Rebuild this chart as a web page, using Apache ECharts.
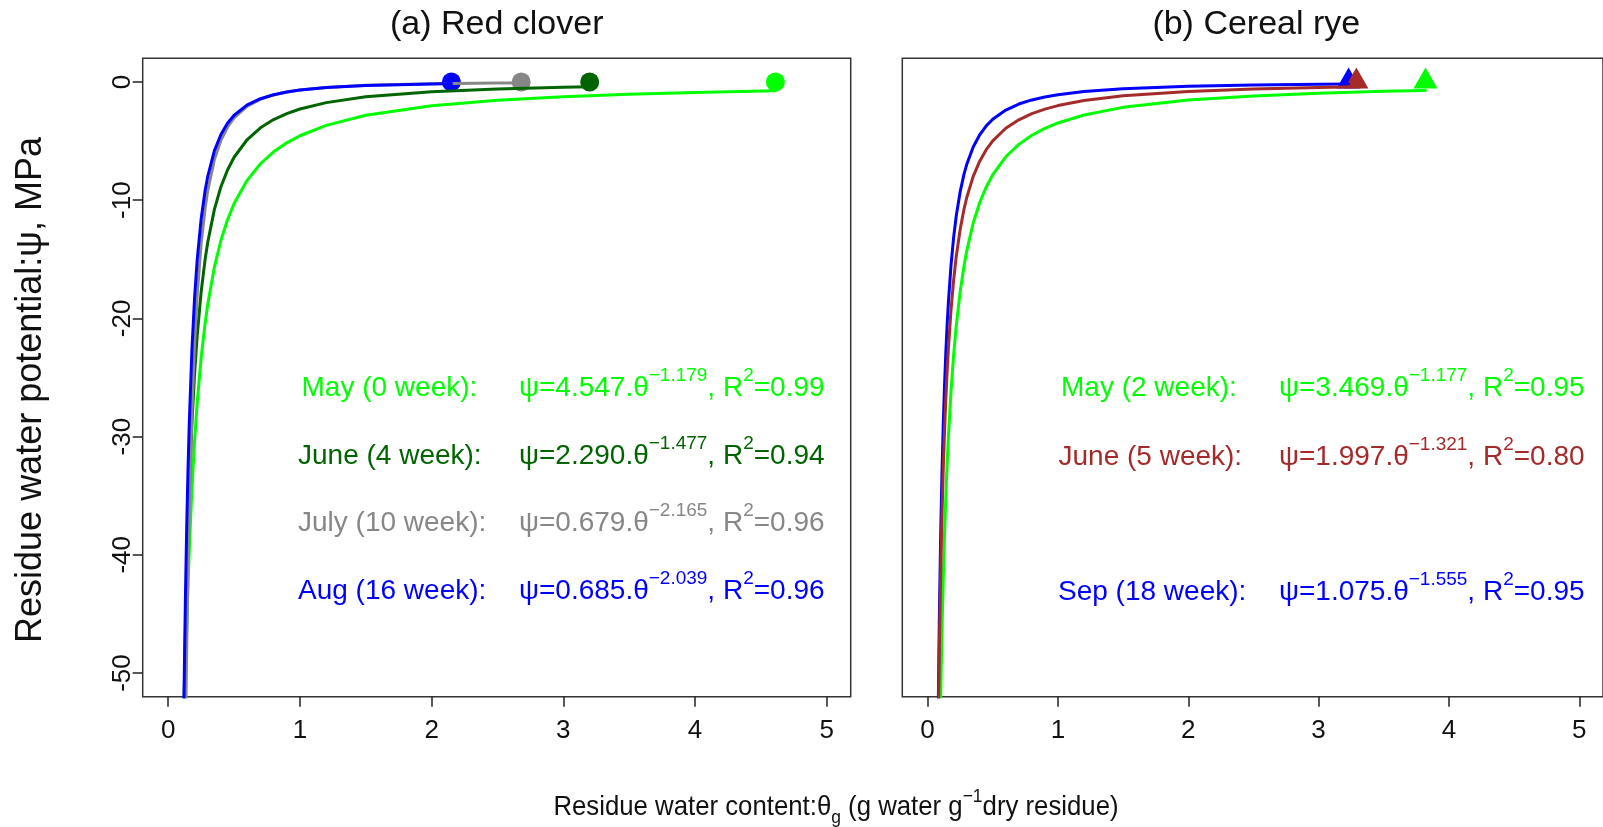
<!DOCTYPE html>
<html>
<head>
<meta charset="utf-8">
<script src="https://cdn.jsdelivr.net/npm/echarts@6/dist/echarts.min.js"></script>
<style>
html,body{margin:0;padding:0;background:#fff;}
#chart{width:1603px;height:827px;}
</style>
</head>
<body>
<div id="chart"></div>
<script>
// ---------------- DATA ----------------
// Panel (a) Red clover: fitted retention curves (theta, psi)
const rcMay_theta  = [0.11,0.12,0.13,0.14,0.15,0.16,0.18,0.2,0.22,0.25,0.28,0.3,0.35,0.4,0.45,0.5,0.6,0.7,0.8,0.9,1.0,1.2,1.5,2.0,2.5,3.0,3.5,4.0,4.61];
const rcMay_psi    = [-61.37,-55.38,-50.39,-46.18,-42.57,-39.45,-34.33,-30.33,-27.10,-23.31,-20.40,-18.80,-15.68,-13.39,-11.66,-10.29,-8.30,-6.92,-5.91,-5.15,-4.55,-3.67,-2.82,-2.01,-1.54,-1.25,-1.04,-0.89,-0.75];
const rcJune_theta = [0.11,0.12,0.13,0.14,0.15,0.16,0.18,0.2,0.22,0.25,0.28,0.3,0.35,0.4,0.45,0.5,0.6,0.7,0.8,0.9,1.0,1.2,1.5,2.0,2.5,3.0,3.2];
const rcJune_psi   = [-59.66,-52.47,-46.62,-41.78,-37.73,-34.31,-28.83,-24.67,-21.43,-17.74,-15.01,-13.56,-10.80,-8.86,-7.45,-6.37,-4.87,-3.88,-3.18,-2.68,-2.29,-1.75,-1.26,-0.82,-0.59,-0.45,-0.41];
const rcJuly_theta = [0.12,0.13,0.14,0.15,0.16,0.18,0.2,0.22,0.25,0.28,0.3,0.35,0.4,0.45,0.5,0.6,0.7,0.8,0.9,1.0,1.2,1.5,2.0,2.5,2.68];
const rcJuly_psi   = [-66.90,-56.25,-47.92,-41.27,-35.89,-27.81,-22.14,-18.01,-13.66,-10.69,-9.20,-6.59,-4.94,-3.83,-3.05,-2.05,-1.47,-1.10,-0.85,-0.68,-0.46,-0.28,-0.15,-0.09,-0.08];
const rcAug_theta  = [0.11,0.12,0.13,0.14,0.15,0.16,0.18,0.2,0.22,0.25,0.28,0.3,0.35,0.4,0.45,0.5,0.6,0.7,0.8,0.9,1.0,1.2,1.5,2.0,2.15];
const rcAug_psi    = [-61.70,-51.67,-43.89,-37.73,-32.78,-28.74,-22.60,-18.23,-15.01,-11.57,-9.18,-7.98,-5.83,-4.44,-3.49,-2.82,-1.94,-1.42,-1.08,-0.85,-0.69,-0.47,-0.30,-0.17,-0.14];
// Panel (a) saturated points (theta at psi = 0)
const rcPoint_theta = [4.61, 3.20, 2.68, 2.15];
const rcPoint_psi   = [0, 0, 0, 0];

// Panel (b) Cereal rye
const ryeMay_theta  = [0.09,0.1,0.11,0.12,0.13,0.14,0.15,0.16,0.18,0.2,0.22,0.25,0.28,0.3,0.35,0.4,0.45,0.5,0.6,0.7,0.8,0.9,1.0,1.2,1.5,2.0,2.5,3.0,3.5,3.82];
const ryeMay_psi    = [-59.03,-52.15,-46.61,-42.08,-38.29,-35.09,-32.36,-29.99,-26.11,-23.06,-20.61,-17.74,-15.52,-14.31,-11.93,-10.20,-8.88,-7.84,-6.33,-5.28,-4.51,-3.93,-3.47,-2.80,-2.15,-1.53,-1.18,-0.95,-0.79,-0.72];
const ryeJune_theta = [0.08,0.09,0.1,0.11,0.12,0.13,0.14,0.15,0.16,0.18,0.2,0.22,0.25,0.28,0.3,0.35,0.4,0.45,0.5,0.6,0.7,0.8,0.9,1.0,1.2,1.5,2.0,2.5,3.0,3.29];
const ryeJune_psi   = [-56.16,-48.06,-41.82,-36.87,-32.87,-29.57,-26.81,-24.48,-22.48,-19.24,-16.74,-14.76,-12.47,-10.73,-9.80,-7.99,-6.70,-5.73,-4.99,-3.92,-3.20,-2.68,-2.30,-2.00,-1.57,-1.17,-0.80,-0.60,-0.47,-0.41];
const ryeSep_theta  = [0.08,0.09,0.1,0.11,0.12,0.13,0.14,0.15,0.16,0.18,0.2,0.22,0.25,0.28,0.3,0.35,0.4,0.45,0.5,0.6,0.7,0.8,0.9,1.0,1.2,1.5,2.0,2.5,3.0,3.23];
const ryeSep_psi    = [-54.59,-45.45,-38.58,-33.27,-29.06,-25.66,-22.87,-20.54,-18.58,-15.47,-13.13,-11.32,-9.28,-7.78,-6.99,-5.50,-4.47,-3.72,-3.16,-2.38,-1.87,-1.52,-1.27,-1.08,-0.81,-0.57,-0.37,-0.26,-0.20,-0.17];
const ryePoint_theta = [3.82, 3.29, 3.23];
const ryePoint_psi   = [0, 0, 0];

// Tick labels
const xTicks = [0, 1, 2, 3, 4, 5];
const yTicks = [-50, -40, -30, -20, -10, 0];

// Annotation texts
const rcLabels = ['May (0 week):', 'June (4 week):', 'July (10 week):', 'Aug (16 week):'];
const rcCoef   = ['4.547', '2.290', '0.679', '0.685'];
const rcExp    = ['1.179', '1.477', '2.165', '2.039'];
const rcR2     = ['0.99', '0.94', '0.96', '0.96'];
const ryeLabels = ['May (2 week):', 'June (5 week):', 'Sep (18 week):'];
const ryeCoef   = ['3.469', '1.997', '1.075'];
const ryeExp    = ['1.177', '1.321', '1.555'];
const ryeR2     = ['0.95', '0.80', '0.95'];

// ---------------- STYLE / LAYOUT ----------------
const FONT = 'Liberation Sans, Arial, Helvetica, sans-serif';
const C = {green:'#00FF00', dkgreen:'#006400', gray:'#878787', blue:'#0000FF', brown:'#A52A2A'};
const rcColors  = [C.green, C.dkgreen, C.gray, C.blue];
const ryeColors = [C.green, C.brown, C.blue];

const X_MIN = -0.194, X_MAX = 5.182, Y_MIN = -52, Y_MAX = 2;
const G = [{left:142.7, top:58.3, width:708, height:638.4},
           {left:902.3, top:58.3, width:708, height:638.4}];

function pairs(xs, ys){ return xs.map((x,i)=>[x, ys[i]]); }

function lineSeries(idx, xs, ys, color){
  return {type:'line', xAxisIndex:idx, yAxisIndex:idx, data:pairs(xs,ys),
    showSymbol:false, symbol:'none', smooth:false, clip:true,
    lineStyle:{color:color, width:3, join:'round', cap:'round'}, silent:true, animation:false};
}
function pointSeries(idx, x, y, color, tri){
  return {type:'scatter', xAxisIndex:idx, yAxisIndex:idx, data:[[x,y]],
    symbol: tri ? 'triangle' : 'circle',
    symbolSize: tri ? [24,21] : 19,
    symbolOffset: tri ? [0,-4] : [0,0],
    itemStyle:{color:color, opacity:1}, clip:false, silent:true, animation:false};
}

function xAxisCfg(idx){
  return {gridIndex:idx, type:'value', min:X_MIN, max:X_MAX,
    axisLine:{show:false, onZero:false},
    axisTick:{show:true, customValues:xTicks, length:10, lineStyle:{color:'#222', width:1.5}},
    axisLabel:{show:true, customValues:xTicks, margin:21, fontSize:26, fontFamily:FONT, color:'#111'},
    splitLine:{show:false}};
}
function yAxisCfg(idx, show){
  return {gridIndex:idx, type:'value', min:Y_MIN, max:Y_MAX, show:show,
    axisLine:{show:false, onZero:false},
    axisTick:{show:show, customValues:yTicks, length:10, lineStyle:{color:'#222', width:1.5}},
    axisLabel:{show:show, customValues:yTicks, rotate:90, margin:7, fontSize:26, fontFamily:FONT, color:'#111'},
    splitLine:{show:false}};
}

const series = [
  lineSeries(0, rcMay_theta, rcMay_psi, C.green),
  pointSeries(0, rcPoint_theta[0], rcPoint_psi[0], C.green, false),
  lineSeries(0, rcJune_theta, rcJune_psi, C.dkgreen),
  pointSeries(0, rcPoint_theta[1], rcPoint_psi[1], C.dkgreen, false),
  pointSeries(0, rcPoint_theta[3], rcPoint_psi[3], C.blue, false),
  lineSeries(0, rcJuly_theta, rcJuly_psi, C.gray),
  pointSeries(0, rcPoint_theta[2], rcPoint_psi[2], C.gray, false),
  lineSeries(0, rcAug_theta, rcAug_psi, C.blue),

  lineSeries(1, ryeMay_theta, ryeMay_psi, C.green),
  pointSeries(1, ryePoint_theta[0], ryePoint_psi[0], C.green, true),
  lineSeries(1, ryeSep_theta, ryeSep_psi, C.blue),
  pointSeries(1, ryePoint_theta[2], ryePoint_psi[2], C.blue, true),
  lineSeries(1, ryeJune_theta, ryeJune_psi, C.brown),
  pointSeries(1, ryePoint_theta[1], ryePoint_psi[1], C.brown, true)
];

// ---------------- TEXT ----------------
const richEq = {
  n:{fontSize:28, fontFamily:FONT, lineHeight:44},
  s:{fontSize:19, fontFamily:FONT, lineHeight:12, verticalAlign:'top'}
};
function eqText(coef, exp, r2){
  return '{n|\u03C8=' + coef + '.\u03B8}{s|\u2212' + exp + '}{n|, R}{s|2}{n|=' + r2 + '}';
}
const graphics = [];
function addText(x, y, text, color, size, extra){
  graphics.push(Object.assign({type:'text', x:x, y:y, silent:true,
    style:{text:text, fill:color, font: size + 'px ' + FONT, align:'left', verticalAlign:'middle'}}, extra||{}));
}
const rcRowY = [388, 456, 523.5, 591];
const rcLabelX = [301.5, 298, 298, 298];
rcLabels.forEach((lab,i)=>{
  addText(rcLabelX[i], rcRowY[i], lab, rcColors[i], 28);
  graphics.push({type:'text', x:519, y:rcRowY[i], silent:true,
    style:{text:eqText(rcCoef[i], rcExp[i], rcR2[i]), rich:richEq, fill:rcColors[i],
      align:'left', verticalAlign:'middle'}});
});
const ryeRowY = [388, 457, 592];
const ryeLabelX = [1061, 1058.5, 1058];
ryeLabels.forEach((lab,i)=>{
  addText(ryeLabelX[i], ryeRowY[i], lab, ryeColors[i], 28);
  graphics.push({type:'text', x:1279, y:ryeRowY[i], silent:true,
    style:{text:eqText(ryeCoef[i], ryeExp[i], ryeR2[i]), rich:richEq, fill:ryeColors[i],
      align:'left', verticalAlign:'middle'}});
});
// panel titles
graphics.push({type:'text', x:G[0].left + G[0].width/2, y:25, silent:true,
  style:{text:'(a) Red clover', fill:'#111', font:'34px ' + FONT, align:'center', verticalAlign:'middle'}});
graphics.push({type:'text', x:G[1].left + G[1].width/2, y:25, silent:true,
  style:{text:'(b) Cereal rye', fill:'#111', font:'34px ' + FONT, align:'center', verticalAlign:'middle'}});
// axis titles
graphics.push({type:'text', x:836, y:807, scaleX:0.92, originX:0, originY:0, silent:true,
  style:{text:'{n|Residue water content:\u03B8}{b|g}{n| (g water g}{s|\u22121}{n|dry residue)}',
    rich:{n:{fontSize:28, fontFamily:FONT, lineHeight:40},
          s:{fontSize:19, fontFamily:FONT, lineHeight:14, verticalAlign:'top'},
          b:{fontSize:19, fontFamily:FONT, lineHeight:16, verticalAlign:'bottom'}},
    fill:'#111', align:'center', verticalAlign:'middle'}});
graphics.push({type:'text', x:31, y:390, rotation:Math.PI/2, silent:true,
  style:{text:'Residue water potential:\u03C8, MPa', fill:'#111', font:'36px ' + FONT,
    align:'center', verticalAlign:'middle'}});

const chart = echarts.init(document.getElementById('chart'), null, {renderer:'canvas'});
chart.setOption({
  backgroundColor:'#ffffff',
  animation:false,
  grid: G.map(g=>Object.assign({show:true, borderColor:'#333', borderWidth:1.5, backgroundColor:'transparent', containLabel:false}, g)),
  xAxis:[xAxisCfg(0), xAxisCfg(1)],
  yAxis:[yAxisCfg(0, true), yAxisCfg(1, false)],
  series: series,
  graphic: graphics
});
</script>
</body>
</html>
